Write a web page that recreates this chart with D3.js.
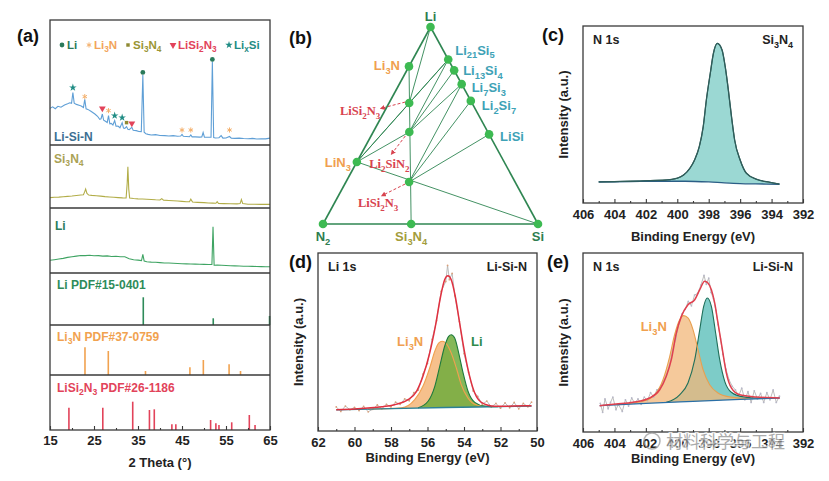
<!DOCTYPE html>
<html>
<head>
<meta charset="utf-8">
<script src="https://cdn.jsdelivr.net/npm/d3@7"></script>
<style>
body { margin: 0; background: #fff; }
text { font-family: "Liberation Sans", Arial, sans-serif; font-weight: bold; }
</style>
</head>
<body>
<svg id="chart" width="829" height="481"></svg>
<script>
// ---------- (a) XRD data : [2theta, relative intensity] ----------
var xrdLiSiN = [[15.0,29.3],[15.6,30.5],[16.2,29.0],[16.8,31.0],[17.5,30.2],[18.3,32.0],[19.0,33.0],[19.5,33.8],[19.9,33.3],[20.2,42.0],[20.5,33.5],[21.0,32.5],[21.6,31.8],[22.1,31.2],[22.6,30.0],[22.9,36.5],[23.2,29.0],[23.6,28.5],[24.3,27.0],[25.2,24.8],[25.8,23.0],[26.3,20.5],[26.6,21.0],[26.9,24.8],[27.2,19.8],[27.6,19.0],[28.0,18.0],[28.3,23.5],[28.6,17.0],[28.9,17.3],[29.3,16.0],[29.7,19.5],[30.0,15.0],[30.45,15.2],[30.9,13.8],[31.4,17.9],[31.7,13.5],[32.0,13.3],[32.4,14.7],[32.7,12.5],[33.0,12.3],[33.6,14.1],[33.9,11.8],[34.6,11.5],[35.2,10.8],[35.75,10.7],[36.1,56.0],[36.4,10.2],[36.8,9.0],[37.3,8.5],[38.0,8.0],[39.0,8.3],[40.0,7.6],[41.1,7.5],[42.0,7.2],[43.0,7.5],[44.0,7.0],[44.7,7.2],[45.0,8.5],[45.3,7.0],[46.0,6.8],[46.7,6.6],[47.0,8.0],[47.3,6.5],[48.0,6.5],[49.0,6.3],[49.5,6.5],[49.8,10.0],[50.1,6.2],[51.0,6.2],[51.6,6.3],[51.9,66.7],[52.2,6.0],[52.6,5.6],[53.4,5.8],[53.9,7.5],[54.3,5.5],[55.0,5.6],[55.8,6.8],[56.2,5.4],[57.0,5.3],[58.0,5.5],[59.0,5.2],[60.0,5.0],[61.0,5.3],[62.0,4.8],[63.0,5.0],[64.0,4.9],[65.0,5.5]];
var xrdSi3N4 = [[15,16.5],[16,17.0],[17,17.2],[18,17.8],[19,18.5],[20,19.0],[21,19.8],[22,20.6],[22.6,21.0],[22.9,26.0],[23.1,30.0],[23.4,23.0],[23.8,20.5],[24.5,20.0],[25.5,19.5],[26.5,18.8],[27.5,18.0],[28.5,17.5],[29.5,17.0],[30.5,16.5],[31.5,16.0],[32.3,15.8],[32.55,40],[32.7,65.6],[32.9,30],[33.1,16.0],[34,15.0],[35,14.5],[36,14.2],[37,13.8],[38,13.5],[39,13.0],[40,12.8],[40.4,14.8],[40.8,12.5],[42,12.0],[43,11.5],[44,11.0],[45,10.5],[46,10.0],[46.7,10.0],[47.0,14.0],[47.4,9.5],[48.5,9.0],[50,8.5],[51,8.0],[52,7.8],[52.7,7.5],[53.0,10.0],[53.3,7.2],[54.5,7.0],[56,6.8],[57.5,6.5],[58.2,7.0],[58.5,13.5],[58.8,7.0],[60,6.0],[61.5,6.0],[63,5.8],[65,5.8]];
var xrdLi = [[15,19.5],[16,20.5],[17,21.5],[18,22.5],[19,24.0],[20,25.0],[21,26.0],[22,27.0],[23,26.8],[24,27.3],[25,26.5],[26,26.8],[27,26.0],[28,26.3],[29,25.5],[30,25.8],[31,25.0],[32,25.0],[33,22.0],[34,20.5],[35,19.8],[35.8,19.0],[36.1,28.7],[36.4,18.5],[37,17.4],[38,16.8],[39,16.5],[40,16.0],[41,15.5],[42,15.3],[43,15.0],[44,14.6],[45,14.3],[46,14.0],[47,13.8],[48,13.6],[49,13.5],[50,13.2],[51,13.0],[51.8,13.0],[52.05,71.2],[52.3,12.0],[53,12.3],[54,12.0],[55,11.6],[56,11.2],[57,11.0],[58,10.8],[59,10.5],[60,10.4],[61,10.2],[62,10.0],[63,9.8],[64,9.7],[65,9.7]];

var pdfLi = [[36.2,53.3],[52.1,12.9],[64.9,17.3]];
var pdfLi3N = [[22.95,55.4],[28.25,48],[36.7,8],[46.8,15.4],[49.85,30],[55.7,21.4],[58.3,8]];
var pdfLiSi2N3 = [[19.3,40.5],[27.0,40.5],[33.8,51.5],[37.6,36.4],[38.7,37.6],[42.7,10.4],[43.6,10.4],[51.5,18.2],[52.7,12.1],[53.4,9.1],[56.3,14.0],[60.3,27.3],[61.6,9.1]];

// phase markers over the Li-Si-N pattern
var markLi = [[36.1,58.1],[51.9,68.5]];
var markLi3N = [[22.9,38.7],[28.3,27.5],[45.0,12],[47.0,12],[55.8,12]];
var markSi3N4 = [[32.4,17.9]];
var markLiSi2N3 = [[26.9,29.3],[33.6,17.3]];
var markLixSi = [[20.2,45.9],[29.7,23.5],[31.4,21.9]];

var xTicksA = [15, 25, 35, 45, 55, 65];

// ---------- (b) ternary phase diagram : [Li, N, Si] fractions ----------
var phaseNames = ["Li", "N_2", "Si", "Li_3N", "LiN_3", "LiSi_2N_3", "Li_2SiN_2", "LiSi_2N_3", "Si_3N_4", "Li_21Si_5", "Li_13Si_4", "Li_7Si_3", "Li_2Si_7", "LiSi"];
var phaseComp = [[1,0,0],[0,1,0],[0,0,1],[0.80,0.20,0],[0.315,0.685,0],[0.614,0.292,0.094],[0.467,0.365,0.168],[0.213,0.493,0.294],[0,0.59,0.41],[0.835,0,0.165],[0.78,0,0.22],[0.71,0,0.29],[0.625,0,0.375],[0.455,0,0.545]];
var tieLines = [[0,1],[1,2],[2,0],[3,8],[4,2],[4,5],[4,9],[4,6],[0,5],[9,5],[9,6],[10,6],[11,6],[11,7],[12,7],[13,7]];

// ---------- (c) N 1s Si3N4 : [BE, intensity] ----------
var envC = [[405.0,11.9],[404,12.1],[403,12.3],[402.4,12.4],[401.5,12.7],[400.7,13.0],[400.0,14.0],[399.6,15.8],[399.2,19.6],[398.9,24.3],[398.6,31.8],[398.35,43.1],[398.15,58.2],[397.9,73.3],[397.7,84.6],[397.45,90.2],[397.15,86.4],[396.95,77.0],[396.75,63.8],[396.55,48.8],[396.35,35.6],[396.0,24.3],[395.6,16.8],[394.95,13.4],[394.1,11.7],[393.5,10.7]];
var bgC = [[405,11.9],[403,12.1],[401,12.3],[399.5,12.3],[398,11.9],[397,11.4],[396,11.0],[395,10.8],[393.5,10.6]];

// ---------- (d) Li 1s Li-Si-N ----------
var rawD = [[61.0,13.5],[60.75,11.0],[60.5,14.0],[60.25,12.0],[60.0,13.2],[59.75,11.5],[59.5,13.8],[59.25,10.8],[59.0,12.2],[58.75,14.6],[58.5,12.5],[58.25,15.0],[58.0,13.5],[57.75,16.2],[57.5,15.0],[57.25,18.0],[57.0,17.0],[56.75,21.5],[56.5,23.0],[56.25,32.0],[56.0,38.0],[55.75,51.5],[55.5,62.0],[55.25,78.5],[55.0,84.0],[54.9,93.0],[54.8,85.0],[54.65,88.5],[54.5,76.0],[54.25,61.5],[54.0,43.5],[53.75,33.0],[53.5,22.5],[53.25,19.5],[53.0,15.0],[52.75,16.8],[52.5,13.5],[52.25,15.5],[52.0,12.8],[51.75,15.8],[51.5,13.0],[51.25,16.0],[51.0,12.5],[50.75,15.5],[50.5,13.6],[50.3,16.2]];
var envD = [[61.0,12.0],[60.0,12.4],[59.26,12.9],[58.5,13.6],[57.8,14.8],[57.07,17.6],[56.6,22.3],[56.25,30.7],[55.88,43.8],[55.57,58.8],[55.28,75.7],[55.06,85.0],[54.88,87.2],[54.7,85.0],[54.48,75.7],[54.24,60.7],[53.96,43.8],[53.69,30.7],[53.41,21.3],[53.05,16.1],[52.32,13.9],[51.3,14.0],[50.3,14.2]];
var bgD = [[61.0,11.9],[58,12.6],[55,13.2],[52,13.7],[50.3,14.0]];
var li3nD = [[59.26,12.3],[57.43,13.0],[56.7,17.6],[56.25,25.1],[55.88,35.4],[55.6,44.8],[55.39,49.4],[55.2,50.4],[54.97,49.1],[54.7,43.8],[54.42,35.4],[54.15,26.0],[53.78,18.5],[53.33,14.8],[52.5,13.6]];
var liD = [[56.52,13.0],[55.97,16.7],[55.6,25.1],[55.33,36.3],[55.06,47.6],[54.84,53.2],[54.7,54.1],[54.51,52.2],[54.29,43.8],[54.05,32.6],[53.78,22.3],[53.41,16.1],[52.87,14.0],[52.14,13.7]];

// ---------- (e) N 1s Li-Si-N ----------
var rawE = [[404.9,16.0],[404.75,11.0],[404.6,18.5],[404.4,13.0],[404.25,16.5],[404.1,19.5],[403.9,12.5],[403.75,15.5],[403.5,11.5],[403.3,18.0],[403.1,14.5],[402.9,19.0],[402.7,16.0],[402.5,18.5],[402.3,15.5],[402.1,19.5],[401.9,17.5],[401.7,22.0],[401.5,19.5],[401.3,23.5],[401.1,24.5],[400.9,28.0],[400.7,31.5],[400.5,37.0],[400.3,45.5],[400.1,52.0],[399.9,60.5],[399.7,66.0],[399.5,68.5],[399.3,73.0],[399.1,70.5],[398.9,76.5],[398.7,77.5],[398.5,82.0],[398.3,87.5],[398.15,82.5],[398.0,86.0],[397.85,78.0],[397.7,74.5],[397.55,68.0],[397.4,60.0],[397.25,52.0],[397.1,43.5],[396.9,35.0],[396.7,29.0],[396.5,25.5],[396.3,23.5],[396.1,20.0],[395.9,24.5],[395.7,18.0],[395.5,22.5],[395.3,16.5],[395.1,23.0],[394.9,18.5],[394.7,21.5],[394.5,16.5],[394.3,22.0],[394.1,18.0],[393.9,23.5],[393.7,16.5],[393.5,20.0]];
var envE = [[404.94,14.7],[403.9,15.6],[402.82,16.6],[401.76,19.0],[401.12,23.6],[400.7,31.1],[400.38,40.4],[400.06,55.3],[399.74,64.6],[399.32,71.1],[398.89,73.9],[398.57,79.5],[398.26,84.2],[398.05,83.2],[397.83,79.5],[397.62,72.1],[397.41,60.9],[397.13,46.0],[396.88,33.0],[396.56,24.6],[396.03,20.8],[394.97,19.6],[393.48,19.0]];
var bgE = [[404.94,14.7],[402,16.0],[399,17.1],[396,18.2],[393.48,19.0]];
var li3nE = [[403.88,15.2],[402.18,17.2],[401.44,20.8],[400.91,29.2],[400.48,42.3],[400.17,54.4],[399.85,62.7],[399.59,65.0],[399.32,63.7],[399.0,57.2],[398.68,46.0],[398.36,34.8],[397.94,26.4],[397.41,21.8],[396.67,19.6],[395.39,18.6]];
var tealE = [[400.7,16.6],[399.85,20.8],[399.32,27.4],[398.89,40.4],[398.57,57.2],[398.32,70.2],[398.09,74.9],[397.83,70.2],[397.56,55.3],[397.3,40.4],[396.98,28.3],[396.56,22.2],[395.81,19.6],[394.54,18.7]];

var xTicksXps = [406, 404, 402, 400, 398, 396, 394, 392];
var xTicksLi = [62, 60, 58, 56, 54, 52, 50];

var svg = d3.select("#chart");
var FRAME = "#3a3a3a";

// writes "Li_3N" style names with subscripts
function chem(sel, str, size) {
    var parts = str.split(/_([0-9x]+)/);
    for (var i = 0; i < parts.length; i++) {
        if (!parts[i]) continue;
        var t = sel.append("tspan").text(parts[i]);
        if (i % 2 == 1) {
            t.attr("dy", size * 0.28).attr("font-size", size * 0.72);
        } else if (i > 0) {
            t.attr("dy", -size * 0.28);
        }
    }
    return sel;
}

function label(x, y, str, size, color, anchor, family) {
    var t = svg.append("text")
        .attr("x", x).attr("y", y)
        .attr("font-size", size)
        .attr("fill", color)
        .attr("text-anchor", anchor || "start");
    if (family) t.style("font-family", family);
    return chem(t, str, size);
}

function styleAxis(g) {
    g.select(".domain").remove();
    g.selectAll("line").attr("stroke", FRAME).attr("stroke-width", 1.1);
    g.selectAll("text")
        .attr("font-size", 13)
        .attr("fill", "#222")
        .style("font-family", "'Liberation Sans', Arial, sans-serif")
        .style("font-weight", "bold");
}

// ================= panel (a) =================
var xA = d3.scaleLinear().domain([15, 65]).range([50, 270]);
var bandEdges = [20, 145, 208, 273, 325, 375, 430];
function bandY(i) {
    return d3.scaleLinear().domain([0, 100]).range([bandEdges[i + 1], bandEdges[i]]);
}

var traces = [
    {data: xrdLiSiN, band: 0, color: "#5f9fd6"},
    {data: xrdSi3N4, band: 1, color: "#b2ad48"},
    {data: xrdLi, band: 2, color: "#3fa463"}
];
traces.forEach(function(t) {
    var y = bandY(t.band);
    var line = d3.line().x(function(d) { return xA(d[0]); }).y(function(d) { return y(d[1]); });
    svg.append("path").datum(t.data)
        .attr("d", line)
        .attr("fill", "none")
        .attr("stroke", t.color)
        .attr("stroke-width", 1.1);
});

var sticks = [
    {data: pdfLi, band: 3, color: "#2e8b5a"},
    {data: pdfLi3N, band: 4, color: "#f1a24f"},
    {data: pdfLiSi2N3, band: 5, color: "#e2435a"}
];
sticks.forEach(function(s) {
    var y = bandY(s.band);
    svg.selectAll(null).data(s.data).enter().append("line")
        .attr("x1", function(d) { return xA(d[0]); })
        .attr("x2", function(d) { return xA(d[0]); })
        .attr("y1", y(0))
        .attr("y2", function(d) { return y(d[1]); })
        .attr("stroke", s.color)
        .attr("stroke-width", 1.6);
});

// frame and separators
svg.append("rect").attr("x", 50).attr("y", 20).attr("width", 220).attr("height", 410)
    .attr("fill", "none").attr("stroke", FRAME).attr("stroke-width", 1.3);
svg.selectAll(null).data(bandEdges.slice(1, 6)).enter().append("line")
    .attr("x1", 50).attr("x2", 270)
    .attr("y1", function(d) { return d; }).attr("y2", function(d) { return d; })
    .attr("stroke", FRAME).attr("stroke-width", 1.3);

var phaseMarks = [
    {name: "Li", pts: markLi, sym: d3.symbolCircle, size: 18, color: "#2a7a5a", rot: 0},
    {name: "Li_3N", pts: markLi3N, sym: d3.symbolAsterisk, size: 18, color: "#f4b06c", rot: 0},
    {name: "Si_3N_4", pts: markSi3N4, sym: d3.symbolSquare, size: 12, color: "#8f8a33", rot: 0},
    {name: "LiSi_2N_3", pts: markLiSi2N3, sym: d3.symbolTriangle, size: 20, color: "#e2435a", rot: 180},
    {name: "Li_xSi", pts: markLixSi, sym: d3.symbolStar, size: 18, color: "#1f8c84", rot: 0}
];
var yBand0 = bandY(0);
phaseMarks.forEach(function(p) {
    var sym = d3.symbol().type(p.sym).size(p.size);
    svg.selectAll(null).data(p.pts).enter().append("path")
        .attr("d", sym)
        .attr("transform", function(d) {
            return "translate(" + xA(d[0]) + "," + yBand0(d[1]) + ") rotate(" + p.rot + ")";
        })
        .attr("fill", p.color)
        .attr("stroke", p.sym == d3.symbolAsterisk ? p.color : "none")
        .attr("stroke-width", 1);
});

// legend across the top of the XRD panel
var legendX = [62, 89, 128, 173, 229];
phaseMarks.forEach(function(p, i) {
    var sym = d3.symbol().type(p.sym).size(p.size);
    svg.append("path").attr("d", sym)
        .attr("transform", "translate(" + legendX[i] + ",45) rotate(" + p.rot + ")")
        .attr("fill", p.color)
        .attr("stroke", p.sym == d3.symbolAsterisk ? p.color : "none")
        .attr("stroke-width", 1);
    label(legendX[i] + 5, 49, p.name, 11.5, p.name == "Li_3N" ? "#f2a45a" : (p.name == "Si_3N_4" ? "#9a9535" : p.color));
});

label(54, 141, "Li-Si-N", 12, "#3d6f92");
label(54, 163, "Si_3N_4", 12, "#aaa255");
label(55, 230, "Li", 12, "#2b7d5d");
label(57, 289, "Li  PDF#15-0401", 12, "#2e8b5a");
label(57, 341, "Li_3N  PDF#37-0759", 12, "#f1a24f");
label(57, 392, "LiSi_2N_3  PDF#26-1186", 12, "#e2435a");

var axA = d3.axisBottom(xA).tickValues(xTicksA).tickFormat(d3.format("d"))
    .tickSizeInner(-4).tickSizeOuter(0).tickPadding(6);
styleAxis(svg.append("g").attr("transform", "translate(0,430)").call(axA));
var axAm = d3.axisBottom(xA).tickValues([20, 30, 40, 50, 60]).tickFormat("")
    .tickSizeInner(-2).tickSizeOuter(0);
styleAxis(svg.append("g").attr("transform", "translate(0,430)").call(axAm));
label(160, 467, "2 Theta (°)", 13, "#222", "middle");
label(17, 42, "(a)", 18, "#111");

// ================= panel (b) =================
var tx = d3.scaleLinear().domain([0, 1]).range([323, 538]);
var ty = d3.scaleLinear().domain([0, 1]).range([224, 27]);
function tern(c) { return [tx(c[2] + c[0] * 0.5), ty(c[0])]; }

svg.selectAll(null).data(tieLines).enter().append("line")
    .attr("x1", function(d) { return tern(phaseComp[d[0]])[0]; })
    .attr("y1", function(d) { return tern(phaseComp[d[0]])[1]; })
    .attr("x2", function(d) { return tern(phaseComp[d[1]])[0]; })
    .attr("y2", function(d) { return tern(phaseComp[d[1]])[1]; })
    .attr("stroke", "#2f8652")
    .attr("stroke-width", function(d, i) { return i < 3 ? 1.6 : 0.9; });

svg.selectAll(null).data(phaseComp).enter().append("circle")
    .attr("cx", function(d) { return tern(d)[0]; })
    .attr("cy", function(d) { return tern(d)[1]; })
    .attr("r", 4.3)
    .attr("fill", "#3dba52");

// label placement for the ternary points: [dx, dy, anchor, colour, serif]
var GREEN = "#2e7d4f", ORANGE = "#f0a04f", TEAL = "#3ea2b6", RED = "#d8434f", OLIVE = "#a39d3c";
var ternLabels = [
    [0, -6, "middle", GREEN, 0], [0, 17, "middle", GREEN, 0], [0, 17, "middle", GREEN, 0],
    [-9, 4, "end", ORANGE, 0], [-6, 5, "end", ORANGE, 0],
    [-29, 12, "end", RED, 1], [-20, 36, "middle", RED, 1], [-31, 25, "middle", RED, 1],
    [0, 17, "middle", OLIVE, 0],
    [7, -5, "start", TEAL, 0], [9, 5, "start", TEAL, 0], [10, 8, "start", TEAL, 0],
    [11, 9, "start", TEAL, 0], [11, 7, "start", TEAL, 0]
];
phaseComp.forEach(function(c, i) {
    var p = tern(c), L = ternLabels[i];
    label(p[0] + L[0], p[1] + L[1], phaseNames[i], L[4] ? 12.5 : 13, L[3], L[2],
        L[4] ? "'Liberation Serif', 'Times New Roman', serif" : null);
});

// dashed leaders from the nitride points to their labels
svg.append("defs").append("marker")
    .attr("id", "arr").attr("viewBox", "0 0 10 10").attr("refX", 5).attr("refY", 5)
    .attr("markerWidth", 5).attr("markerHeight", 5).attr("orient", "auto")
    .append("path").attr("d", "M0,0 L10,5 L0,10 z").attr("fill", RED);
var leaders = [[5, -4, -1, -27, 5], [6, -4, 4, -17, 21], [7, -4, 2, -26, 13]];
leaders.forEach(function(l) {
    var p = tern(phaseComp[l[0]]);
    svg.append("line")
        .attr("x1", p[0] + l[1]).attr("y1", p[1] + l[2])
        .attr("x2", p[0] + l[3]).attr("y2", p[1] + l[4])
        .attr("stroke", RED).attr("stroke-width", 1)
        .attr("stroke-dasharray", "3,2")
        .attr("marker-end", "url(#arr)");
});
label(289, 44, "(b)", 18, "#111");

// ================= XPS panels =================
function xpsPanel(o) {
    var x = d3.scaleLinear().domain(o.xd).range([o.l, o.r]);
    var y = d3.scaleLinear().domain([0, 100]).range([o.b, o.t]);
    var bgSorted = o.bg.slice().sort(function(a, b) { return a[0] - b[0]; });
    var bgAt = d3.scaleLinear().domain(bgSorted.map(function(d) { return d[0]; }))
        .range(bgSorted.map(function(d) { return d[1]; })).clamp(true);
    var area = d3.area().curve(d3.curveMonotoneX)
        .x(function(d) { return x(d[0]); })
        .y0(function(d) { return y(bgAt(d[0])); })
        .y1(function(d) { return y(d[1]); });
    var line = d3.line().curve(d3.curveMonotoneX)
        .x(function(d) { return x(d[0]); })
        .y(function(d) { return y(d[1]); });

    o.comps.forEach(function(c) {
        svg.append("path").datum(c.data).attr("d", area)
            .attr("fill", c.fill).attr("fill-opacity", c.op);
    });
    if (o.raw) {
        svg.append("path").datum(o.raw)
            .attr("d", d3.line().x(function(d) { return x(d[0]); }).y(function(d) { return y(d[1]); }))
            .attr("fill", "none").attr("stroke", "#b4b4b4").attr("stroke-width", 0.9);
        svg.selectAll(null).data(o.raw).enter().append("circle")
            .attr("cx", function(d) { return x(d[0]); })
            .attr("cy", function(d) { return y(d[1]); })
            .attr("r", 0.9).attr("fill", o.rawDot);
    }
    o.comps.forEach(function(c) {
        svg.append("path").datum(c.data).attr("d", line)
            .attr("fill", "none").attr("stroke", c.stroke).attr("stroke-width", 1.1);
    });
    svg.append("path").datum(o.bg).attr("d", line)
        .attr("fill", "none").attr("stroke", o.bgColor).attr("stroke-width", 1.3);
    svg.append("path").datum(o.env).attr("d", line)
        .attr("fill", "none").attr("stroke", o.envColor).attr("stroke-width", o.envW);

    svg.append("rect").attr("x", o.l).attr("y", o.t)
        .attr("width", o.r - o.l).attr("height", o.b - o.t)
        .attr("fill", "none").attr("stroke", FRAME).attr("stroke-width", 1.3);

    var ax = d3.axisBottom(x).tickValues(o.ticks).tickFormat(d3.format("d"))
        .tickSizeInner(-4).tickSizeOuter(0).tickPadding(7);
    styleAxis(svg.append("g").attr("transform", "translate(0," + o.b + ")").call(ax));
    var minor = d3.range(o.ticks.length - 1).map(function(i) { return (o.ticks[i] + o.ticks[i + 1]) / 2; });
    var axm = d3.axisBottom(x).tickValues(minor).tickFormat("").tickSizeInner(-2).tickSizeOuter(0);
    styleAxis(svg.append("g").attr("transform", "translate(0," + o.b + ")").call(axm));

    var cx = (o.l + o.r) / 2, cy = (o.t + o.b) / 2;
    label(cx, o.b + o.xlabY, "Binding Energy (eV)", 13, "#222", "middle");
    svg.append("text").attr("transform", "translate(" + (o.l - 15) + "," + cy + ") rotate(-90)")
        .attr("text-anchor", "middle").attr("font-size", 13).attr("fill", "#222")
        .text("Intensity (a.u.)");
    label(o.l + 10, o.t + 18, o.core, 12.5, "#222");
    label(o.r - 10, o.t + 18, o.sample, 12.5, "#222", "end");
    label(o.l + o.tagX, o.t + 15, o.tag, 18, "#111");
    return {x: x, y: y};
}

xpsPanel({
    l: 583, r: 803, t: 26, b: 203, xd: [406, 392], ticks: xTicksXps,
    env: envC, bg: bgC, envColor: "#2f5d5a", envW: 1.3, bgColor: "#2b5e86",
    comps: [{data: envC, fill: "#9bd8d3", op: 1, stroke: "#2f5d5a"}],
    core: "N 1s", sample: "Si_3N_4", tag: "(c)", tagX: -41, xlabY: 38
});

var pd = xpsPanel({
    l: 318, r: 537, t: 253, b: 431, xd: [62, 50], ticks: xTicksLi,
    env: envD, bg: bgD, envColor: "#e0303f", envW: 1.5, bgColor: "#2b8196",
    raw: rawD, rawDot: "#d9a07a",
    comps: [
        {data: li3nD, fill: "#f6bd86", op: 0.95, stroke: "#f0a04f"},
        {data: liD, fill: "#6eab3c", op: 0.85, stroke: "#1d7a3c"}
    ],
    core: "Li 1s", sample: "Li-Si-N", tag: "(d)", tagX: -29, xlabY: 31
});
label(pd.x(56.95), pd.y(47.5), "Li_3N", 13, "#f0a04f", "middle");
label(pd.x(53.3), pd.y(47.5), "Li", 13, "#2e8b4a", "middle");

var pe = xpsPanel({
    l: 583, r: 803, t: 253, b: 432, xd: [406, 392], ticks: xTicksXps,
    env: envE, bg: bgE, envColor: "#e0404e", envW: 1.5, bgColor: "#2a6fa6",
    raw: rawE, rawDot: "#b8b8c8",
    comps: [
        {data: tealE, fill: "#6fc6c2", op: 0.9, stroke: "#1f6f5a"},
        {data: li3nE, fill: "#f2b77a", op: 0.75, stroke: "#e8a050"}
    ],
    core: "N 1s", sample: "Li-Si-N", tag: "(e)", tagX: -36, xlabY: 31
});
label(pe.x(401.5), pe.y(56.5), "Li_3N", 13, "#f0a04f", "middle");

// watermark over the (e) axis
var wm = svg.append("g").attr("opacity", 0.75);
wm.append("circle").attr("cx", 652).attr("cy", 441).attr("r", 8)
    .attr("fill", "none").attr("stroke", "#9a9a9a").attr("stroke-width", 1.5);
wm.append("text").attr("x", 666).attr("y", 448)
    .attr("font-size", 17).attr("fill", "#8f8f8f")
    .attr("stroke", "#fff").attr("stroke-width", 2.5).style("paint-order", "stroke")
    .style("font-family", "'Noto Sans CJK SC', sans-serif").style("font-weight", "normal")
    .text("材料科学与工程");
</script>
</body>
</html>
